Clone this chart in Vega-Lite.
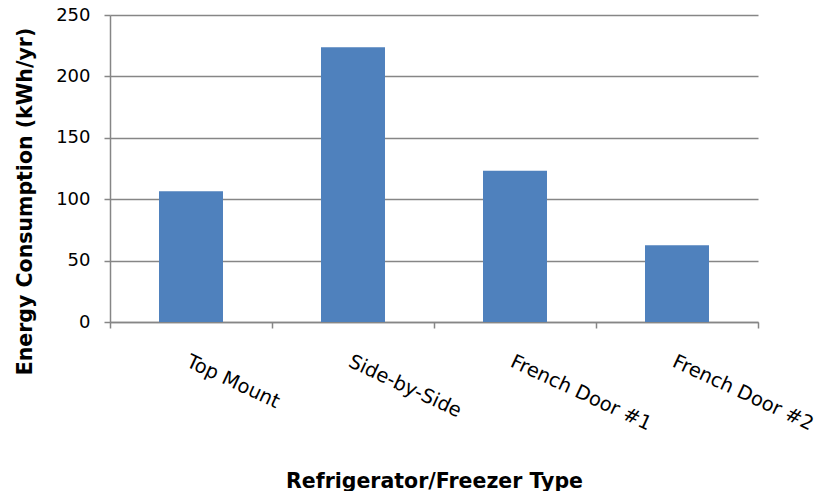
{
  "$schema": "https://vega.github.io/schema/vega-lite/v6.json",
  "autosize": {"type": "none"},
  "padding": {"left": 110, "top": 15, "right": 64, "bottom": 169},
  "width": 648,
  "height": 307,
  "background": "white",
  "data": {
    "values": [
      {"type": "Top Mount", "energy": 106.5},
      {"type": "Side-by-Side", "energy": 223.7},
      {"type": "French Door #1", "energy": 123.2},
      {"type": "French Door #2", "energy": 62.5}
    ]
  },
  "mark": {"type": "bar", "color": "#4F81BD", "width": {"band": 0.395}},
  "encoding": {
    "x": {
      "field": "type",
      "type": "nominal",
      "sort": null,
      "scale": {"paddingInner": 0, "paddingOuter": 0},
      "axis": {
        "title": "Refrigerator/Freezer Type",
        "titleFont": "DejaVu Sans",
        "titleFontWeight": "bold",
        "titleFontSize": 20.5,
        "titleColor": "black",
        "titleBaseline": "alphabetic",
        "titleAlign": "center",
        "titleY": 165,
        "labelFont": "DejaVu Sans",
        "labelFontSize": 19.5,
        "labelColor": "black",
        "labelAngle": 25,
        "labelAlign": "left",
        "labelBaseline": "top",
        "labelPadding": 24,
        "labelOverlap": false,
        "labelLimit": 0,
        "labelBound": false,
        "labelFlush": false,
        "tickBand": "extent",
        "tickSize": 6,
        "tickColor": "#868686",
        "tickWidth": 1.5,
        "domainColor": "#868686",
        "domainWidth": 1.5,
        "grid": false
      }
    },
    "y": {
      "field": "energy",
      "type": "quantitative",
      "scale": {"domain": [0, 250], "nice": false},
      "axis": {
        "values": [0, 50, 100, 150, 200, 250],
        "title": "Energy Consumption (kWh/yr)",
        "titleFont": "DejaVu Sans",
        "titleFontWeight": "bold",
        "titleFontSize": 20.5,
        "titleColor": "black",
        "titleAngle": -90,
        "titleBaseline": "alphabetic",
        "titleAlign": "center",
        "titleX": -79,
        "titleY": 186,
        "labelFont": "DejaVu Sans",
        "labelFontSize": 18,
        "labelColor": "black",
        "labelPadding": 14,
        "tickSize": 6,
        "tickColor": "#868686",
        "tickWidth": 1.5,
        "domainColor": "#868686",
        "domainWidth": 1.5,
        "grid": true,
        "gridColor": "#868686",
        "gridWidth": 1.5
      }
    }
  },
  "config": {"view": {"stroke": null}}
}
